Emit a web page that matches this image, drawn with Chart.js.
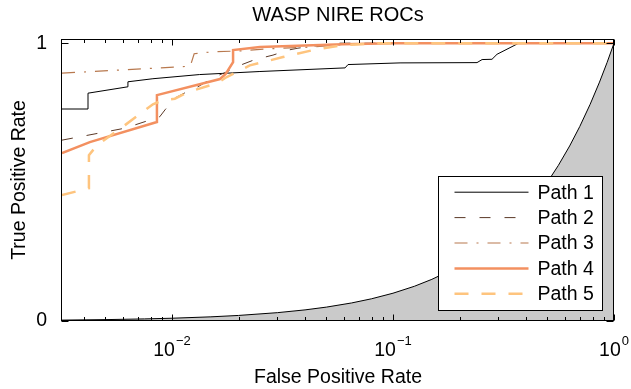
<!DOCTYPE html>
<html>
<head>
<meta charset="utf-8">
<title>WASP NIRE ROCs</title>
<script src="https://cdn.jsdelivr.net/npm/chart.js@4.4.1/dist/chart.umd.min.js"></script>
<style>
  html, body { margin: 0; padding: 0; background: #fff; }
</style>
</head>
<body>
<canvas id="roc" width="631" height="389"></canvas>
<script>
// values (false positive rate on a log axis)
const seriesNames = ['Path 1', 'Path 2', 'Path 3', 'Path 4', 'Path 5'];

const path1Fpr = [0.00318, 0.00417, 0.00417, 0.00632, 0.00632, 0.0082, 0.0133, 0.025, 0.0607, 0.0626, 0.1076, 0.240, 0.253, 0.2805, 0.2956, 0.3565, 0.37, 1];
const path1Tpr = [0.763, 0.763, 0.820, 0.843, 0.861, 0.872, 0.887, 0.898, 0.911, 0.923, 0.929, 0.930, 0.941, 0.942, 0.960, 0.993, 1.0, 1.0];

const path2Fpr = [0.00318, 0.00613, 0.0088, 0.0093, 0.0103, 0.0118, 0.0131, 0.01565, 0.01738, 0.02073, 0.02374, 0.02864, 0.0335, 0.03716, 0.04345, 0.05757, 1];
const path2Tpr = [0.651, 0.694, 0.735, 0.760, 0.802, 0.827, 0.843, 0.879, 0.894, 0.923, 0.941, 0.957, 0.975, 0.982, 0.989, 1.0, 1.0];

const path3Fpr = [0.00318, 0.0121, 0.0126, 0.0153, 0.0203, 0.0278, 0.040, 0.060, 0.090, 1];
const path3Tpr = [0.892, 0.917, 0.962, 0.969, 0.972, 0.980, 0.985, 0.995, 1.0, 1.0];

const path4Fpr = [0.00318, 0.00425, 0.00855, 0.00855, 0.0165, 0.0175, 0.0189, 0.0189, 0.025, 0.0594, 0.10, 1];
const path4Tpr = [0.604, 0.644, 0.716, 0.813, 0.871, 0.889, 0.932, 0.975, 0.986, 0.996, 1.0, 1.0];

const path5Fpr = [0.00318, 0.00421, 0.00421, 0.00458, 0.00613, 0.0082, 0.0091, 0.0103, 0.0118, 0.0160, 0.0177, 0.0225, 0.0318, 0.0434, 0.0594, 0.0873, 1];
const path5Tpr = [0.453, 0.478, 0.597, 0.633, 0.705, 0.780, 0.795, 0.800, 0.824, 0.856, 0.878, 0.920, 0.950, 0.975, 0.993, 1.0, 1.0];

// chance diagonal (TPR = FPR), shaded underneath
const chanceFpr = [0.00318, 0.005, 0.0075, 0.01, 0.015, 0.02, 0.03, 0.04, 0.05, 0.065, 0.08, 0.1, 0.125, 0.15, 0.18, 0.22, 0.26, 0.3, 0.35, 0.4, 0.45, 0.5, 0.56, 0.63, 0.7, 0.78, 0.86, 0.93, 1];
const chanceTpr = [0.00318, 0.005, 0.0075, 0.01, 0.015, 0.02, 0.03, 0.04, 0.05, 0.065, 0.08, 0.1, 0.125, 0.15, 0.18, 0.22, 0.26, 0.3, 0.35, 0.4, 0.45, 0.5, 0.56, 0.63, 0.7, 0.78, 0.86, 0.93, 1];

const fprMin = 0.00318;
const fprMax = 1;
const tprMin = 0;
const tprMax = 1.015;

const xTickValues = [0.01, 0.1, 1];
const xTickExponents = ['\u22122', '\u22121', '0'];
const yTickValues = [0, 1];
const yTickLabels = ['0', '1'];

const FONT = "'Liberation Sans', Arial, Helvetica, sans-serif";

const zip = (xs, ys) => xs.map((x, i) => ({ x: x, y: ys[i] }));

const styles = [
  { color: '#000000', width: 1, dash: [] },
  { color: '#5a3826', width: 1, dash: [11, 14] },
  { color: '#b8794f', width: 1.2, dash: [13, 9, 2, 9] },
  { color: '#f39060', width: 2.5, dash: [] },
  { color: '#fec47e', width: 2.5, dash: [14, 13] },
];
const pathData = [
  zip(path1Fpr, path1Tpr),
  zip(path2Fpr, path2Tpr),
  zip(path3Fpr, path3Tpr),
  zip(path4Fpr, path4Tpr),
  zip(path5Fpr, path5Tpr),
];

const datasets = seriesNames.map((name, i) => ({
  label: name,
  data: pathData[i],
  borderColor: styles[i].color,
  borderWidth: styles[i].width,
  borderDash: styles[i].dash,
  pointRadius: 0,
  tension: 0,
  fill: false,
  order: 5 - i,
}));
datasets.push({
  label: 'chance',
  data: zip(chanceFpr, chanceTpr),
  borderColor: '#000000',
  borderWidth: 1,
  backgroundColor: '#cacaca',
  pointRadius: 0,
  tension: 0,
  fill: 'origin',
  order: 10,
});

// axes box, inward ticks, 10^n labels and the legend
const axesDecor = {
  id: 'axesDecor',
  afterDatasetsDraw(chart) {
    const { ctx, chartArea: a, scales } = chart;
    const xs = scales.x, ys = scales.y;
    ctx.save();
    ctx.strokeStyle = '#000';
    ctx.lineWidth = 1;
    ctx.setLineDash([]);
    const L = Math.round(a.left) - 0.5, R = Math.round(a.right) - 0.5;
    const T = Math.round(a.top) + 0.5, B = Math.round(a.bottom) - 0.5;

    ctx.beginPath();
    for (let e = -3; e <= 0; e++) {
      for (let m = 1; m <= 9; m++) {
        const v = m * Math.pow(10, e);
        if (v < fprMin || v > fprMax * 1.0001) continue;
        const px = Math.round(xs.getPixelForValue(v)) + 0.5;
        const len = m === 1 ? 6 : 3.5;
        ctx.moveTo(px, B); ctx.lineTo(px, B - len);
        ctx.moveTo(px, T); ctx.lineTo(px, T + len);
      }
    }
    yTickValues.forEach(v => {
      const py = Math.round(ys.getPixelForValue(v)) + 0.5;
      ctx.moveTo(L, py); ctx.lineTo(L + 7, py);
      ctx.moveTo(R, py); ctx.lineTo(R - 7, py);
    });
    ctx.stroke();

    // legend
    const w = 164, h = 134;
    const x0 = Math.round(a.right - 12 - w) + 0.5;
    const y0 = Math.round(a.bottom - 11 - h) + 0.5;
    ctx.fillStyle = '#fff';
    ctx.fillRect(x0, y0, w, h);
    ctx.strokeStyle = '#000';
    ctx.lineWidth = 1;
    ctx.strokeRect(x0, y0, w, h);
    ctx.font = '19.5px ' + FONT;
    ctx.textBaseline = 'middle';
    ctx.textAlign = 'left';
    seriesNames.forEach((name, i) => {
      const ds = chart.data.datasets[i];
      const ry = y0 + 15.7 + i * 25.4;
      ctx.save();
      ctx.strokeStyle = ds.borderColor;
      ctx.lineWidth = ds.borderWidth;
      ctx.setLineDash(ds.borderDash);
      ctx.beginPath();
      ctx.moveTo(x0 + 16, ry);
      ctx.lineTo(x0 + 90, ry);
      ctx.stroke();
      ctx.restore();
      ctx.fillStyle = '#000';
      ctx.fillText(name, x0 + 99, ry + 1);
    });

    // box on top
    ctx.strokeStyle = '#000';
    ctx.lineWidth = 1;
    ctx.strokeRect(L, T, R - L, B - T);

    // x tick labels as 10 with a raised exponent
    xTickValues.forEach((v, i) => {
      const px = xs.getPixelForValue(v);
      ctx.font = '19.5px ' + FONT;
      const baseW = ctx.measureText('10').width;
      ctx.font = '13px ' + FONT;
      const expW = ctx.measureText(xTickExponents[i]).width;
      const start = px - (baseW + expW + 1) / 2;
      ctx.fillStyle = '#000';
      ctx.textBaseline = 'alphabetic';
      ctx.font = '19.5px ' + FONT;
      ctx.fillText('10', start, a.bottom + 35);
      ctx.font = '13px ' + FONT;
      ctx.fillText(xTickExponents[i], start + baseW + 1, a.bottom + 24);
    });
    ctx.restore();
  }
};

new Chart(document.getElementById('roc'), {
  type: 'line',
  data: { datasets: datasets },
  options: {
    responsive: false,
    animation: false,
    devicePixelRatio: 1,
    layout: { padding: { left: 0, right: 17, top: 0, bottom: 0 } },
    scales: {
      x: {
        type: 'logarithmic',
        min: fprMin,
        max: fprMax,
        grid: { display: false },
        border: { display: false },
        ticks: { display: false },
        title: {
          display: true,
          text: 'False Positive Rate',
          color: '#000',
          font: { family: FONT, size: 19.5 },
          padding: { top: 0, bottom: 0 },
        },
        afterFit: (s) => { s.height = 68; },
      },
      y: {
        type: 'linear',
        min: tprMin,
        max: tprMax,
        grid: { display: false },
        border: { display: false },
        afterBuildTicks: (s) => { s.ticks = yTickValues.map(v => ({ value: v })); },
        ticks: {
          color: '#000',
          padding: 7,
          font: { family: FONT, size: 19.5 },
          callback: (v, i) => yTickLabels[i],
        },
        title: {
          display: true,
          text: 'True Positive Rate',
          color: '#000',
          font: { family: FONT, size: 19.5 },
          padding: { top: 8, bottom: 0 },
        },
        afterFit: (s) => { s.width = 62; },
      },
    },
    plugins: {
      legend: { display: false },
      tooltip: { enabled: false },
      title: {
        display: true,
        text: 'WASP NIRE ROCs',
        color: '#000',
        fullSize: false,
        font: { family: FONT, size: 20, weight: 'normal' },
        padding: { top: 3, bottom: 12 },
      },
    },
  },
  plugins: [axesDecor],
});
</script>
</body>
</html>
